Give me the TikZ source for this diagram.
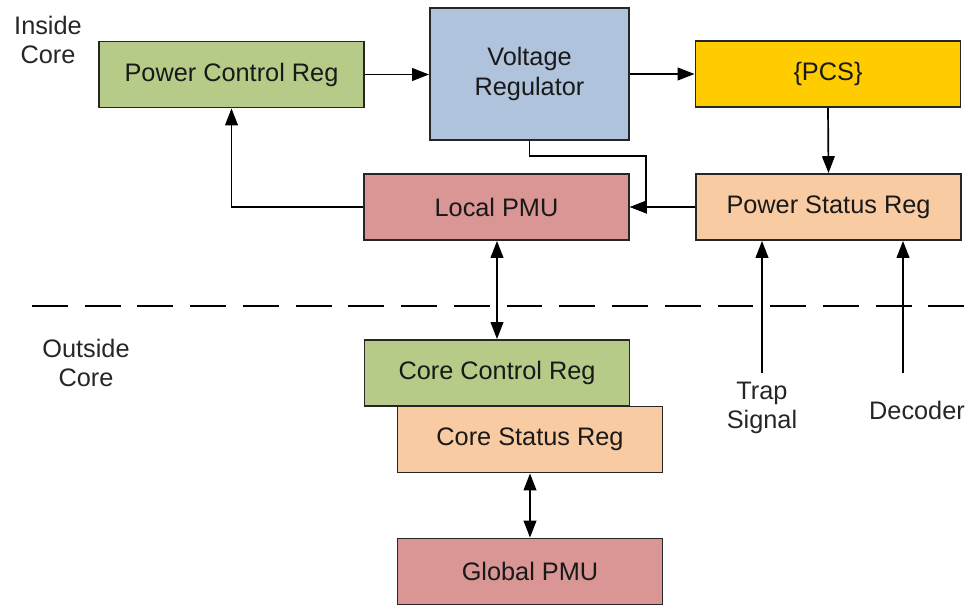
\documentclass[tikz,border=0pt]{standalone}
\usepackage{fontspec}
\setmainfont{Liberation Sans}
\usetikzlibrary{arrows.meta}
\definecolor{regGreen}{HTML}{B6CB88}
\definecolor{regBlue}{HTML}{B0C3DC}
\definecolor{pcsGold}{HTML}{FFCC00}
\definecolor{pmuRed}{HTML}{D99694}
\definecolor{regPeach}{HTML}{F9CBA2}
\tikzset{
	blk/.style={draw=black!85, line width=1.3pt, text=black!90, font=\fontsize{18}{21}\selectfont, align=center, minimum width=6.625cm, minimum height=1.65cm, inner sep=0pt},
	lbl/.style={text=black!85, font=\fontsize{18}{21}\selectfont, align=center},
	lnk/.style={line width=1.2pt, -{Triangle[length=12pt,width=9pt]}},
	lnkboth/.style={line width=1.2pt, {Triangle[length=12pt,width=9pt]}-{Triangle[length=12pt,width=9pt]}},
}
\begin{document}
\begin{tikzpicture}[x=0.025cm, y=-0.025cm]
			\useasboundingbox (0,0) rectangle (969,607);
			% inside core
			\node[blk, fill=regGreen] (pcr) at (231.5,74.5) {Power Control Reg};
			\node[blk, fill=regBlue, minimum width=4.975cm, minimum height=3.3cm] (vr) at (529.5,74) {Voltage\\Regulator};
			\node[blk, fill=pcsGold] (pcs) at (828,74) {\{PCS\}};
			\node[blk, fill=pmuRed] (lpmu) at (496.5,207) {Local PMU};
			\node[blk, fill=regPeach] (psr) at (828.5,207) {Power Status Reg};
			% outside core
			\node[blk, fill=regGreen] (ccr) at (497,373) {Core Control Reg};
			\node[blk, fill=regPeach] (csr) at (530,439.5) {Core Status Reg};
			\node[blk, fill=pmuRed] (gpmu) at (530,571.5) {Global PMU};
			% labels
			\node[lbl] (inlbl) at (48,40) {Inside\\Core};
			\node[lbl] (outlbl) at (86,363) {Outside\\Core};
			% border between the two parts
			\draw[line width=1.3pt, dash pattern=on 25.5pt off 12pt] (32,306) -- (969,306);
			% connections
			\draw[lnk] (pcr.east) -- (pcr.east -| vr.west);
			\draw[lnk] (vr.east) -- (vr.east -| pcs.west);
			\draw[lnk] (pcs.south) -- (psr.north);
			\draw[lnk] (psr.west) -- (lpmu.east);
			\coordinate (vrbend) at (646,156);
			\draw[lnk] (vr.south) |- (vrbend) |- (lpmu.east);
			\draw[lnk] (lpmu.west) -| (pcr.south);
			\draw[lnkboth] (lpmu.south -| ccr.north) -- (ccr.north);
			\draw[lnkboth] (csr.south) -- (gpmu.north);
			% inputs from below
			\foreach \name/\xpos/\txt/\xtxt/\ytxt in {trap/762/{Trap\\Signal}/762/408, dec/903/Decoder/917/410}{
				\coordinate (\name) at (\xpos,373);
				\draw[lnk] (\name) -- (\name |- psr.south);
				\node[lbl] (\name lbl) at (\xtxt,\ytxt) {\txt};
			}
		\end{tikzpicture}
\end{document}
